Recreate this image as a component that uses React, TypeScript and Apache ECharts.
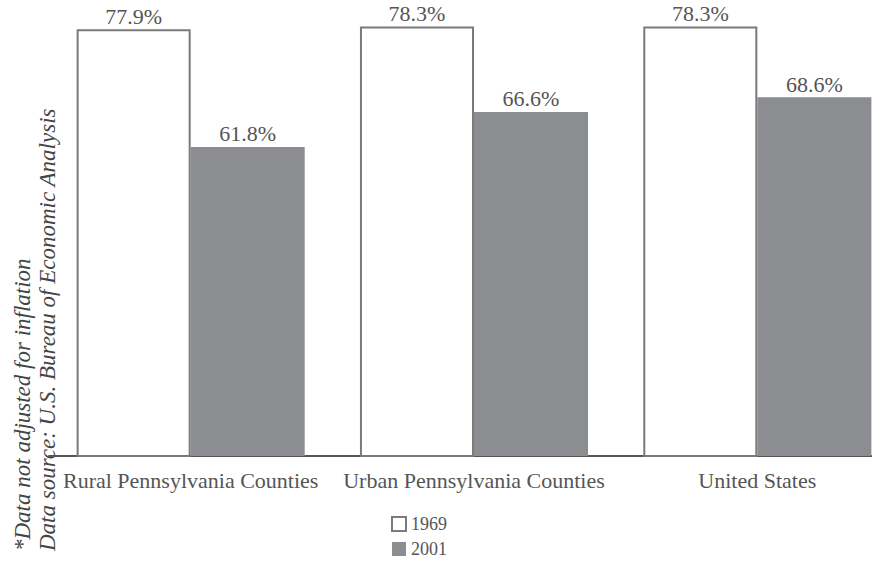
import React, { useEffect, useRef } from "react";
import * as echarts from "echarts";

const categories = ["Rural Pennsylvania Counties", "Urban Pennsylvania Counties", "United States"];
const values1969 = [77.9, 78.3, 78.3];
const values2001 = [61.8, 66.6, 68.6];
const seriesNames = ["1969", "2001"];
const notes = ["*Data not adjusted for inflation", "Data source: U.S. Bureau of Economic Analysis"];

const SERIF = "Liberation Serif, Times New Roman, Times, DejaVu Serif, serif";

export default function App() {
  const ref = useRef<HTMLDivElement>(null);
  useEffect(() => {
    if (!ref.current) return;
    const chart = echarts.init(ref.current, null, { renderer: "svg" });
    const label = {
      show: true,
      position: "top" as const,
      distance: 2,
      formatter: (p: any) => p.value.toFixed(1) + "%",
      fontFamily: SERIF,
      fontSize: 22,
      color: "#555",
    };
    chart.setOption({
      animation: false,
      backgroundColor: "#ffffff",
      grid: { left: 49, right: 1, top: 14, bottom: 107, containLabel: false },
      legend: {
        orient: "vertical",
        left: 391,
        top: 515,
        padding: 0,
        icon: "rect",
        itemWidth: 14,
        itemHeight: 14,
        itemGap: 7,
        textStyle: { fontFamily: SERIF, fontSize: 18, color: "#555" },
        data: seriesNames,
      },
      xAxis: {
        type: "category",
        data: categories,
        axisLine: { show: true, lineStyle: { color: "#555", width: 2 } },
        axisTick: { show: false },
        axisLabel: { interval: 0, fontFamily: SERIF, fontSize: 22, color: "#555", margin: 13 },
      },
      yAxis: {
        type: "value",
        min: 19.5,
        max: 80,
        show: false,
        splitLine: { show: false },
      },
      series: [
        {
          name: seriesNames[0],
          type: "bar",
          data: values1969,
          barGap: "0%",
          barCategoryGap: "19.5%",
          itemStyle: { color: "#ffffff", borderColor: "#7a7a7a", borderWidth: 2 },
          label,
        },
        {
          name: seriesNames[1],
          type: "bar",
          data: values2001,
          barGap: "0%",
          barCategoryGap: "19.5%",
          itemStyle: { color: "#8b8d91" },
          label,
        },
      ],
      graphic: [
        {
          type: "text",
          x: 22,
          y: 551,
          rotation: Math.PI / 2,
          style: {
            text: notes[0],
            fontFamily: SERIF,
            fontStyle: "italic",
            fontSize: 23,
            fill: "#444",
            textAlign: "left",
            textVerticalAlign: "middle",
          },
        },
        {
          type: "text",
          x: 47,
          y: 551,
          rotation: Math.PI / 2,
          style: {
            text: notes[1],
            fontFamily: SERIF,
            fontStyle: "italic",
            fontSize: 23,
            fill: "#444",
            textAlign: "left",
            textVerticalAlign: "middle",
          },
        },
      ],
    });
    return () => chart.dispose();
  }, []);
  return (
    <div style={{ width: 872, height: 563, position: "absolute", left: 0, top: 0, overflow: "hidden" }}>
      <div ref={ref} style={{ width: 900, height: 563 }} />
    </div>
  );
}
